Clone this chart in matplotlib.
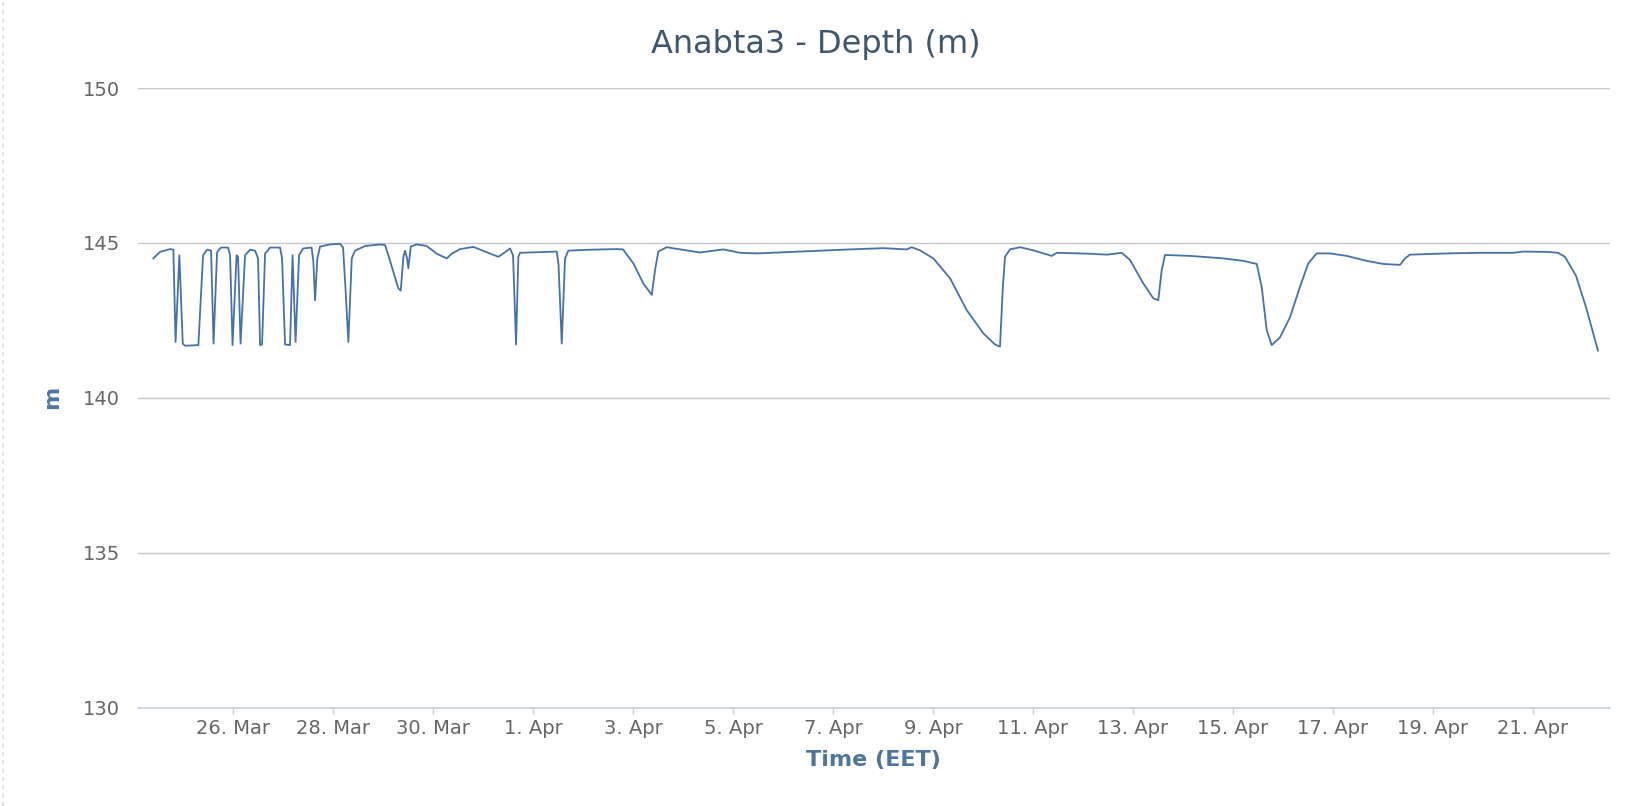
"""
Anabta3 well depth chart (Highcharts-style) recreated with matplotlib.
"""

import matplotlib
matplotlib.use("Agg")
import matplotlib.dates as mdates
import matplotlib.pyplot as plt
from matplotlib.lines import Line2D
import pandas as pd

# Anchor date for the day offsets below (26 Mar, 00:00 EET)
ANCHOR = "2015-03-26"

# Time in days relative to the anchor
DAYS = [
    -1.594, -1.46, -1.26, -1.194, -1.15, -1.074, -1.006, -0.96, -0.694,
    -0.60, -0.52, -0.44, -0.39, -0.32, -0.24, -0.10, -0.06, -0.01, 0.07,
    0.10, 0.15, 0.24, 0.34, 0.44, 0.50, 0.54, 0.58, 0.64, 0.74, 0.94,
    0.98, 1.04, 1.14, 1.19, 1.25, 1.32, 1.40, 1.57, 1.606, 1.64, 1.686,
    1.74, 1.94, 2.14, 2.20, 2.25, 2.306, 2.374, 2.44, 2.64, 2.94, 3.04,
    3.106, 3.206, 3.306, 3.354, 3.406, 3.44, 3.48, 3.506, 3.554, 3.674,
    3.874, 4.074, 4.274, 4.374, 4.54, 4.806, 5.074, 5.306, 5.44, 5.54,
    5.60, 5.66, 5.706, 5.74, 6.14, 6.474, 6.51, 6.574, 6.64, 6.706, 7.14,
    7.674, 7.80, 8.006, 8.206, 8.374, 8.44, 8.506, 8.674, 8.94, 9.34,
    9.806, 10.14, 10.474, 11.34, 12.34, 13.006, 13.474, 13.574, 13.74,
    14.006, 14.34, 14.674, 15.006, 15.24, 15.34, 15.394, 15.44, 15.54,
    15.74, 16.006, 16.374, 16.474, 17.14, 17.474, 17.774, 17.94, 18.206,
    18.406, 18.506, 18.574, 18.64, 19.14, 19.806, 20.206, 20.474, 20.574,
    20.674, 20.774, 20.94, 21.14, 21.34, 21.506, 21.674, 21.94, 22.274,
    22.674, 23.006, 23.34, 23.44, 23.54, 24.274, 24.94, 25.606, 25.806,
    26.274, 26.50, 26.64, 26.86, 27.06, 27.30,
]

# Depth in metres at each of those times
DEPTH = [
    144.50, 144.71, 144.80, 144.78, 141.80, 144.60, 141.75, 141.68, 141.70,
    144.60, 144.78, 144.75, 141.75, 144.70, 144.85, 144.85, 144.60, 141.70, 144.60,
    144.55, 141.75, 144.60, 144.78, 144.75, 144.50, 141.70, 141.72, 144.65, 144.85, 144.85,
    144.50, 141.72, 141.70, 144.60, 141.80, 144.60, 144.82, 144.85, 144.40, 143.15, 144.50,
    144.88, 144.95, 144.97, 144.85, 143.50, 141.80, 144.50, 144.75, 144.90, 144.95, 144.93,
    144.60, 144.07, 143.53, 143.46, 144.55, 144.75, 144.50, 144.18, 144.88, 144.95,
    144.90, 144.65, 144.50, 144.65, 144.80, 144.87, 144.70, 144.55, 144.70, 144.82,
    144.60, 141.72, 144.55, 144.68, 144.70, 144.72, 144.30, 141.75, 144.50, 144.75, 144.78,
    144.80, 144.79, 144.34, 143.69, 143.32, 144.12, 144.72, 144.86, 144.79, 144.69,
    144.79, 144.68, 144.66, 144.72, 144.79, 144.83, 144.79, 144.86, 144.76,
    144.50, 143.86, 142.83, 142.08, 141.72, 141.65, 143.50, 144.55, 144.79,
    144.86, 144.76, 144.58, 144.68, 144.65, 144.62, 144.68, 144.45, 143.69,
    143.21, 143.15, 144.12, 144.61, 144.58, 144.50, 144.42, 144.32, 143.58,
    142.19, 141.70, 141.95, 142.60, 143.58, 144.34, 144.66, 144.66, 144.58,
    144.42, 144.32, 144.29, 144.50, 144.62, 144.66, 144.68, 144.68, 144.72,
    144.71, 144.68, 144.55, 143.94, 142.93, 141.52,
]

Y_TICKS = [130, 135, 140, 145, 150]
X_RANGE_DAYS = (-1.9, 27.54)
X_TICK_COUNT = 14          # 26. Mar ... 21. Apr, every 2 days

TITLE = "Anabta3 - Depth (m)"
X_TITLE = "Time (EET)"
Y_TITLE = "m"

LINE_COLOR = "#4572A7"
GRID_COLOR = "#C8C8C8"
AXIS_COLOR = "#C0D0E0"
LABEL_COLOR = "#666666"
TITLE_COLOR = "#3E576F"
AXIS_TITLE_COLOR = "#4D759E"


def main():
    anchor = pd.Timestamp(ANCHOR)
    times = anchor + pd.to_timedelta(DAYS, unit="D")

    fig = plt.figure(figsize=(16.32, 8.06), dpi=100)
    ax = fig.add_axes([0.0846, 0.1222, 0.9019, 0.7686])

    ax.plot(times, DEPTH, color=LINE_COLOR, linewidth=1.3, solid_joinstyle="round")

    # axes ranges and ticks
    ax.set_ylim(Y_TICKS[0], Y_TICKS[-1])
    ax.set_yticks(Y_TICKS)
    ax.set_xlim(anchor + pd.Timedelta(days=X_RANGE_DAYS[0]),
                anchor + pd.Timedelta(days=X_RANGE_DAYS[1]))
    ticks = pd.date_range(anchor, periods=X_TICK_COUNT, freq="2D")
    ax.set_xticks(ticks)
    ax.set_xticklabels([f"{t.day}. {t.strftime('%b')}" for t in ticks])

    ax.grid(axis="y", color=GRID_COLOR, linewidth=1.0)
    ax.set_axisbelow(True)
    for side in ("left", "right", "top"):
        ax.spines[side].set_visible(False)
    ax.spines["bottom"].set_color(AXIS_COLOR)
    ax.spines["bottom"].set_linewidth(1.2)

    ax.tick_params(axis="y", length=0, pad=13, labelsize=14, labelcolor=LABEL_COLOR)
    ax.tick_params(axis="x", length=4, width=1, color=AXIS_COLOR, pad=4,
                   labelsize=14, labelcolor=LABEL_COLOR)

    fig.text(0.5, 0.945, TITLE, ha="center", va="center",
             fontsize=23, color=TITLE_COLOR)
    fig.text(0.5355, 0.057, X_TITLE, ha="center", va="center",
             fontsize=16, fontweight="bold", color=AXIS_TITLE_COLOR)
    fig.text(0.032, 0.507, Y_TITLE, ha="center", va="center", rotation=90,
             fontsize=16, fontweight="bold", color=AXIS_TITLE_COLOR)

    # faint dotted page border at the left edge
    fig.add_artist(Line2D([0.002, 0.002], [0, 1], transform=fig.transFigure,
                          color="#E2E2E2", linewidth=1.5, linestyle=(0, (2, 2))))

    fig.savefig("out.png", dpi=100)
    plt.close(fig)


if __name__ == "__main__":
    main()
